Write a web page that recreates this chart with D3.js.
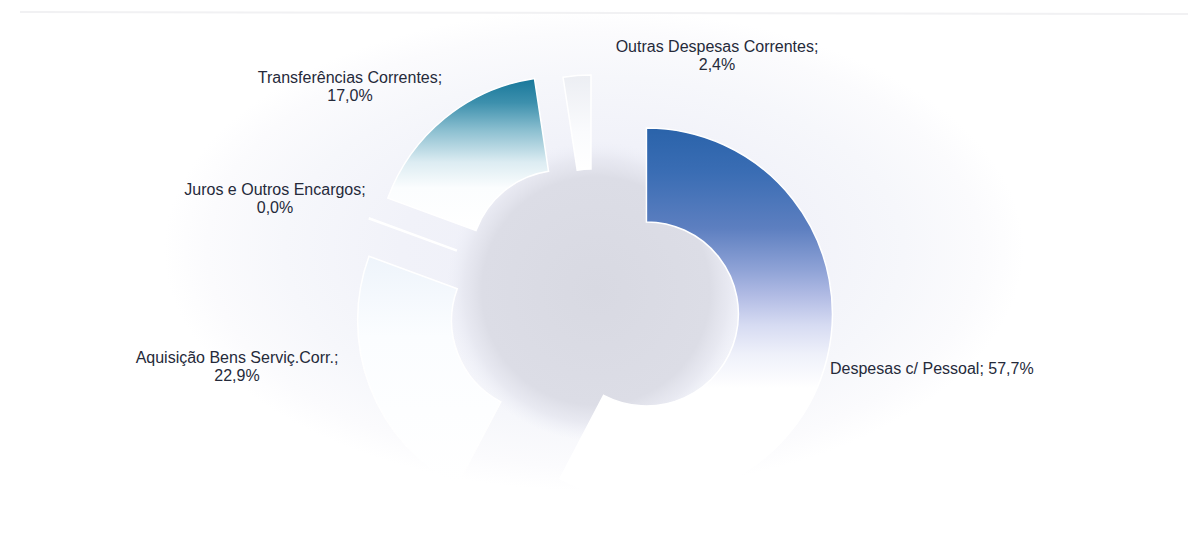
<!DOCTYPE html>
<html>
<head>
<meta charset="utf-8">
<script src="https://cdn.jsdelivr.net/npm/d3@7"></script>
<style>
  html, body { margin: 0; padding: 0; background: #ffffff; }
  svg { display: block; }
  text { font-family: "Liberation Sans", Arial, sans-serif; }
</style>
</head>
<body>
<svg id="chart" width="1192" height="544"></svg>
<script>
// Expense categories, clockwise from 12 o'clock
const categories = [
  "Despesas c/ Pessoal",
  "Aquisição Bens Serviç.Corr.",
  "Juros e Outros Encargos",
  "Transferências Correntes",
  "Outras Despesas Correntes"
];
// Share of total spending, in percent
const shares = [57.7, 22.9, 0.0, 17.0, 2.4];

// Layout of the ring
const W = 1192, H = 544;
const center = { x: 594, y: 301 };
const outerR = 186, innerR = 92;
// how far each slice is pulled out from the centre
const explodeBy = [54, 54, 54, 50, 40];

// Per-slice vertical gradients (colour at the top, fading to white)
const sliceGradients = [
  [[0, "#2a63aa"], [0.12, "#3a6db4"], [0.27, "#5d7fc0"], [0.38, "#8ea2d6"], [0.45, "#b1bbe4"], [0.53, "#d6dbf2"], [0.61, "#eff1fa"], [0.7, "#ffffff"], [1, "#ffffff"]],
  [[0, "#eef4fb"], [0.35, "#fbfdff"], [1, "#ffffff"]],
  [[0, "#ffffff"], [1, "#ffffff"]],
  [[0, "#17779a"], [0.16, "#3d90ad"], [0.34, "#8bbfd0"], [0.55, "#dcecf2"], [0.72, "#fbfdfe"], [1, "#ffffff"]],
  [[0, "#eceef3"], [0.6, "#fafbfd"], [1, "#ffffff"]]
];

// Label placement: x, first baseline, anchor
const labelPos = [
  { x: 830, y: 374, anchor: "start" },
  { x: 237, y: 363, anchor: "middle" },
  { x: 275, y: 195, anchor: "middle" },
  { x: 350, y: 83, anchor: "middle" },
  { x: 717, y: 52, anchor: "middle" }
];
const singleLine = [true, false, false, false, false];

const fmt = v => d3.format(".1f")(v).replace(".", ",") + "%";

const svg = d3.select("#chart");
const defs = svg.append("defs");

// helper: radial gradient in user space, squashed vertically
function radial(id, cx, cy, r, sy, stops) {
  const g = defs.append("radialGradient")
    .attr("id", id)
    .attr("gradientUnits", "userSpaceOnUse")
    .attr("cx", cx).attr("cy", cy).attr("r", r)
    .attr("gradientTransform", `translate(${cx},${cy}) scale(1,${sy}) translate(${-cx},${-cy})`);
  stops.forEach(([o, c, a]) => g.append("stop")
    .attr("offset", o).attr("stop-color", c)
    .attr("stop-opacity", a === undefined ? 1 : a));
}

// pale lavender haze behind the ring
radial("haze", center.x, 250, 430, 0.56,
  [[0, "#eeeff8"], [0.45, "#f1f2f9"], [0.72, "#f6f7fb"], [0.9, "#fbfbfd"], [1, "#ffffff"]]);
// grey pool inside the hole
radial("pool", center.x + 2, 291, 150, 1,
  [[0, "#d8d9e2"], [0.76, "#dcdde6"], [0.88, "#e5e6ef", 0.8], [1, "#eceef7", 0]]);

svg.append("rect")
  .attr("width", W).attr("height", H)
  .attr("fill", "url(#haze)");
svg.append("circle")
  .attr("cx", center.x + 2).attr("cy", 291).attr("r", 150)
  .attr("fill", "url(#pool)");

// faint frame line along the top
svg.append("line")
  .attr("x1", 20).attr("x2", 1188).attr("y1", 12).attr("y2", 14)
  .attr("stroke", "#f1f1f3").attr("stroke-width", 2);

sliceGradients.forEach((stops, i) => {
  const g = defs.append("linearGradient")
    .attr("id", "slice-grad-" + i)
    .attr("x1", 0).attr("y1", 0).attr("x2", 0).attr("y2", 1);
  stops.forEach(([o, c]) => g.append("stop").attr("offset", o).attr("stop-color", c));
});

const pie = d3.pie().sort(null).value(d => d)(shares);
const arc = d3.arc().innerRadius(innerR).outerRadius(outerR);

const ring = svg.append("g").attr("transform", `translate(${center.x},${center.y})`);

const offsetOf = d => {
  const mid = (d.startAngle + d.endAngle) / 2;
  const e = explodeBy[d.index];
  return [Math.sin(mid) * e, -Math.cos(mid) * e];
};

const slices = ring.selectAll("g.slice")
  .data(pie)
  .join("g")
  .attr("class", "slice")
  .attr("transform", d => { const [dx, dy] = offsetOf(d); return `translate(${dx},${dy})`; });

slices.filter(d => d.endAngle > d.startAngle)
  .append("path")
  .attr("d", arc)
  .attr("fill", d => `url(#slice-grad-${d.index})`)
  .attr("stroke", "#ffffff")
  .attr("stroke-width", 1.5);

// zero-valued slices collapse to a single radial edge
slices.filter(d => d.endAngle === d.startAngle)
  .append("line")
  .attr("x1", d => Math.sin(d.startAngle) * innerR)
  .attr("y1", d => -Math.cos(d.startAngle) * innerR)
  .attr("x2", d => Math.sin(d.startAngle) * outerR)
  .attr("y2", d => -Math.cos(d.startAngle) * outerR)
  .attr("stroke", "#ffffff")
  .attr("stroke-width", 2.5);

// Data labels
const labels = svg.append("g")
  .attr("font-size", 16)
  .attr("fill", "#252a3a");

categories.forEach((name, i) => {
  const p = labelPos[i];
  const t = labels.append("text")
    .attr("text-anchor", p.anchor)
    .attr("x", p.x).attr("y", p.y);
  if (singleLine[i]) {
    t.text(`${name}; ${fmt(shares[i])}`);
  } else {
    t.append("tspan").attr("x", p.x).attr("y", p.y).text(`${name};`);
    t.append("tspan").attr("x", p.x).attr("y", p.y + 18).text(fmt(shares[i]));
  }
});
</script>
</body>
</html>
